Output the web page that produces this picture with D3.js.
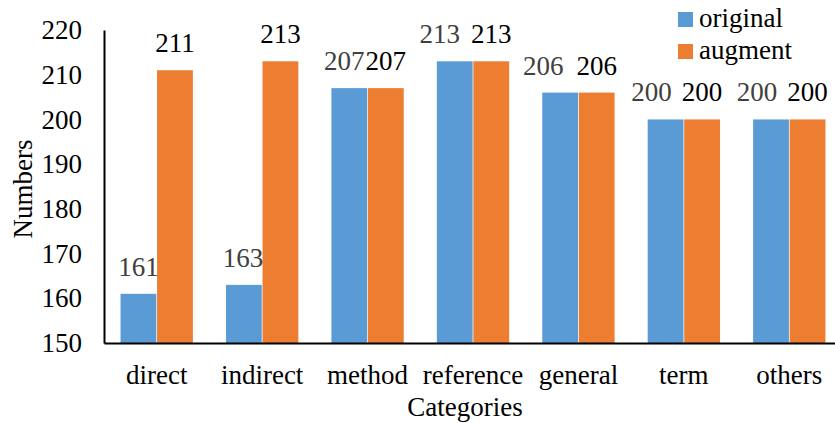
<!DOCTYPE html>
<html>
<head>
<meta charset="utf-8">
<script src="https://cdn.jsdelivr.net/npm/d3@7"></script>
<style>
  body { margin: 0; background: #fff; }
  svg { display: block; }
</style>
</head>
<body>
<div id="chart"></div>
<script>
// Daten
const categories = ["direct", "indirect", "method", "reference", "general", "term", "others"];
const original = [161, 163, 207, 213, 206, 200, 200];
const augment = [211, 213, 207, 213, 206, 200, 200];
const yTicks = [150, 160, 170, 180, 190, 200, 210, 220];
const seriesNames = ["original", "augment"];

const W = 835, H = 423;
const margin = { top: 30, right: -7, bottom: 80, left: 104 };
const width = W - margin.left - margin.right;
const height = H - margin.top - margin.bottom;
const fs = 27;
const serif = "Liberation Serif";

const svg = d3.select("#chart").append("svg")
    .attr("width", W).attr("height", H)
    .attr("font-family", serif);

const g = svg.append("g")
    .attr("transform", `translate(${margin.left},${margin.top})`);

// Skalen
const x = d3.scaleBand().domain(categories).range([0, width]).paddingInner(0.3).paddingOuter(0.15);
const x1 = d3.scaleBand().domain(seriesNames).range([0, x.bandwidth()]).padding(0.02);
const y = d3.scaleLinear().domain([150, 220]).range([height, 0]);
const color = d3.scaleOrdinal().domain(seriesNames).range(["#5B9BD5", "#ED7D31"]);

const rows = categories.map((c, i) => ({ cat: c, values: [
    { key: "original", value: original[i], idx: i },
    { key: "augment", value: augment[i], idx: i }
]}));

// Balken
const groups = g.selectAll(".grp").data(rows).join("g")
    .attr("transform", d => `translate(${x(d.cat)},0)`);

groups.selectAll("rect").data(d => d.values).join("rect")
    .attr("x", d => x1(d.key))
    .attr("y", d => y(d.value))
    .attr("width", x1.bandwidth())
    .attr("height", d => height - y(d.value))
    .attr("fill", d => color(d.key));

// Werte (Original-Labels wie im Vorbild leicht nach links versetzt)
const origLabelShift = [0, -1, -5, -15, -17, -14, -14];
groups.selectAll("text").data(d => d.values).join("text")
    .attr("x", d => x1(d.key) + x1.bandwidth() / 2 + (d.key === "original" ? origLabelShift[d.idx] : 0))
    .attr("y", d => y(d.value) - 18)
    .attr("text-anchor", "middle")
    .attr("font-family", serif)
    .attr("font-size", fs)
    .attr("fill", d => d.key === "original" ? "#404040" : "#000")
    .text(d => d.value);

// Achsen
const yAxis = g.append("g")
    .call(d3.axisLeft(y).tickValues(yTicks).tickSize(0).tickPadding(22));
yAxis.attr("font-family", serif);
yAxis.selectAll("text").attr("font-family", serif).attr("font-size", fs).attr("fill", "#000");
yAxis.select(".domain").attr("stroke", "#000").attr("stroke-width", 2);

const xAxis = g.append("g")
    .attr("transform", `translate(0,${height})`)
    .call(d3.axisBottom(x).tickSize(0).tickPadding(22));
xAxis.attr("font-family", serif);
xAxis.selectAll("text").attr("font-family", serif).attr("font-size", fs).attr("fill", "#000");
xAxis.select(".domain").attr("stroke", "#000").attr("stroke-width", 2);

// Achsentitel
svg.append("text")
    .attr("transform", `translate(32,189) rotate(-90)`)
    .attr("text-anchor", "middle")
    .attr("font-family", serif)
    .attr("font-size", fs)
    .text("Numbers");

svg.append("text")
    .attr("x", 465).attr("y", 416)
    .attr("text-anchor", "middle")
    .attr("font-family", serif)
    .attr("font-size", fs)
    .text("Categories");

// Legende
const legend = svg.append("g").attr("transform", "translate(678,12)");
seriesNames.forEach((s, i) => {
    const row = legend.append("g").attr("transform", `translate(0,${i * 32})`);
    row.append("rect").attr("width", 15).attr("height", 15).attr("fill", color(s));
    row.append("text").attr("x", 21).attr("y", 15)
        .attr("font-family", serif).attr("font-size", fs).text(s);
});
</script>
</body>
</html>
